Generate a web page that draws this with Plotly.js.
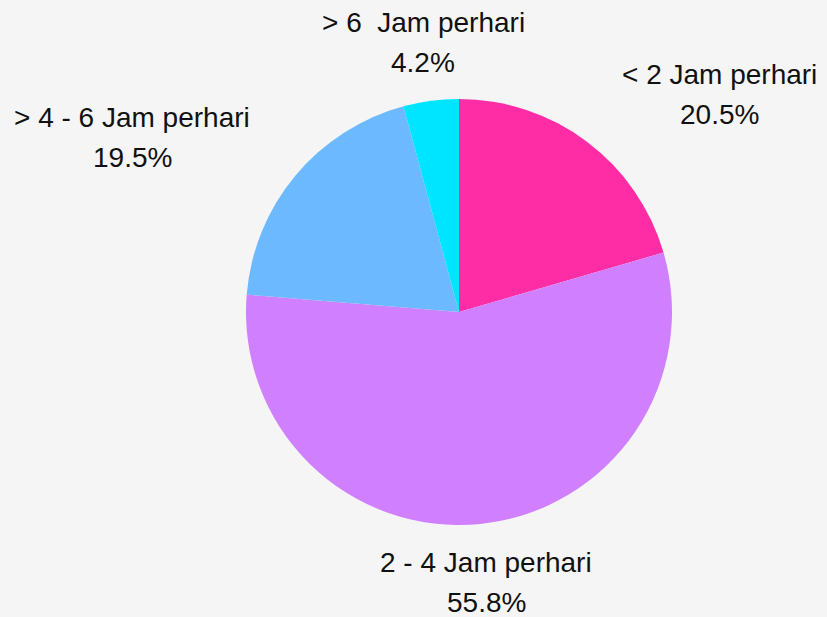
<!DOCTYPE html>
<html>
<head>
<meta charset="utf-8">
<script src="https://cdn.plot.ly/plotly-3.0.1.min.js"></script>
<style>
  html, body { margin: 0; padding: 0; background: #f5f5f5; }
  #chart { width: 827px; height: 617px; }
</style>
</head>
<body>
<div id="chart"></div>
<script>
const labels = ['< 2 Jam perhari', '2 - 4 Jam perhari', '> 4 - 6 Jam perhari', '> 6\u00a0 Jam perhari'];
const values = [20.5, 55.8, 19.5, 4.2];
const colors = ['#ff2da5', '#d07fff', '#6db9ff', '#00e5ff'];

const W = 827, H = 617;
const M = { l: 246, r: 155, t: 99, b: 92 };
const PW = W - M.l - M.r, PH = H - M.t - M.b;
const R = Math.min(PW, PH) / 2;
const CX = M.l + PW / 2, CY = M.t + PH / 2;
const LABEL_R = 1.277 * R;
const FONT_SIZE = 28;
const FONT_FAMILY = '"Liberation Sans", Arial, sans-serif';

const ctx = document.createElement('canvas').getContext('2d');
ctx.font = FONT_SIZE + 'px "Liberation Sans"';

const total = values.reduce((a, b) => a + b, 0);
const annotations = [];
let cum = 0;
values.forEach((v, i) => {
  const mid = (cum + v / 2) / total * 2 * Math.PI;
  cum += v;
  const s = Math.sin(mid), c = Math.cos(mid);
  const ax = CX + LABEL_R * s;
  const ay = CY - LABEL_R * c;
  const pct = (v / total * 100).toFixed(1) + '%';
  const w = ctx.measureText(labels[i]).width;
  let cx;
  if (Math.abs(s) < 0.3) cx = ax;
  else if (s > 0) cx = ax + w / 2;
  else cx = ax - w / 2;
  const xp = (cx - M.l) / PW;
  [[labels[i], ay - 20], [pct, ay + 20]].forEach(([t, y]) => {
    annotations.push({
      text: t, xref: 'paper', yref: 'paper',
      x: xp, y: 1 - (y - M.t) / PH,
      xanchor: 'center', yanchor: 'middle',
      showarrow: false,
      font: { size: FONT_SIZE, color: '#111111', family: FONT_FAMILY }
    });
  });
});

const data = [{
  type: 'pie',
  labels: labels,
  values: values,
  sort: false,
  direction: 'clockwise',
  rotation: 0,
  textinfo: 'none',
  hoverinfo: 'skip',
  marker: { colors: colors, line: { width: 0 } },
  showlegend: false
}];

const layout = {
  width: W, height: H,
  margin: { l: M.l, r: M.r, t: M.t, b: M.b, pad: 0 },
  paper_bgcolor: '#f5f5f5',
  plot_bgcolor: '#f5f5f5',
  showlegend: false,
  annotations: annotations,
  font: { family: FONT_FAMILY }
};

Plotly.newPlot('chart', data, layout, { displayModeBar: false, staticPlot: true });
</script>
</body>
</html>
